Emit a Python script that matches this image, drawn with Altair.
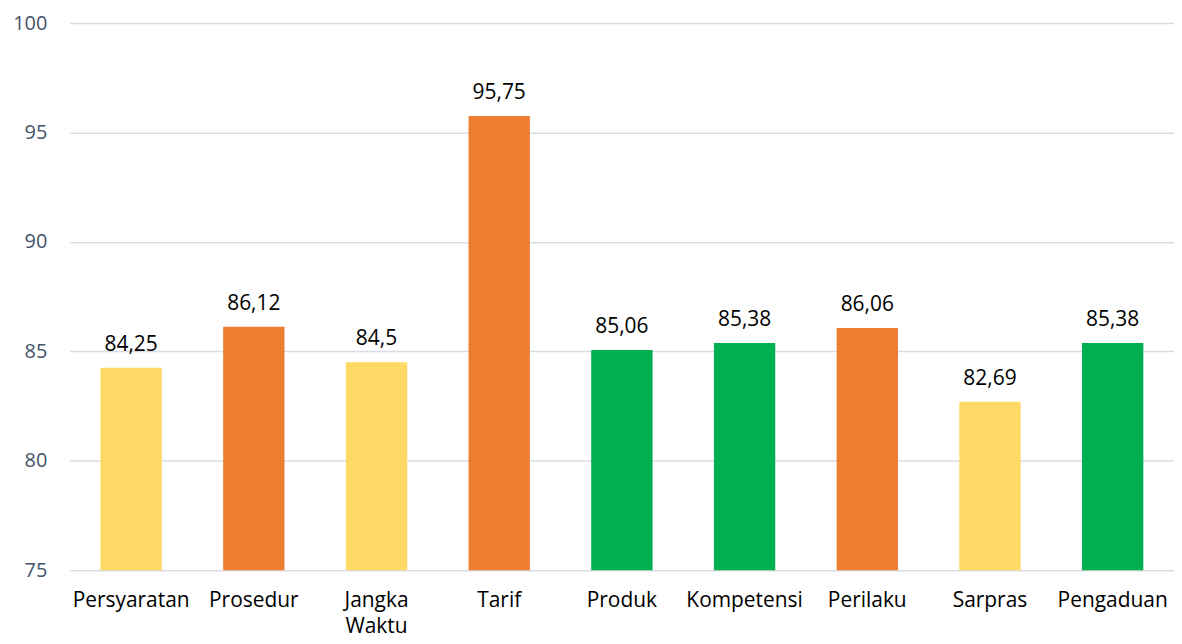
import altair as alt
import pandas as pd

categories = ["Persyaratan", "Prosedur", "Jangka Waktu", "Tarif", "Produk",
              "Kompetensi", "Perilaku", "Sarpras", "Pengaduan"]
values = [84.25, 86.12, 84.5, 95.75, 85.06, 85.38, 86.06, 82.69, 85.38]
labels = ["84,25", "86,12", "84,5", "95,75", "85,06", "85,38", "86,06", "82,69", "85,38"]
colors = ["#FFD966", "#ED7D31", "#FFD966", "#ED7D31", "#00B050",
          "#00B050", "#ED7D31", "#FFD966", "#00B050"]

df = pd.DataFrame({"cat": categories, "val": values, "lab": labels, "col": colors})

FONT = "Open Sans"

x = alt.X("cat:N", sort=categories, title=None,
          scale=alt.Scale(paddingInner=0.5, paddingOuter=0.25),
          axis=alt.Axis(labelAngle=0, labelFontSize=21, labelColor="#000000",
                        labelFont=FONT, ticks=False, domain=False, labelPadding=19,
                        labelLineHeight=27,
                        labelExpr="datum.label == 'Jangka Waktu' ? ['Jangka', 'Waktu'] : datum.label"))

y = alt.Y("val:Q", title=None,
          scale=alt.Scale(domain=[75, 100], zero=False, nice=False),
          axis=alt.Axis(values=[75, 80, 85, 90, 95, 100], labelFontSize=20,
                        labelColor="#44546A", labelFont=FONT, ticks=False,
                        domain=False, labelPadding=23, gridColor="#D9DDE3",
                        gridWidth=1.5))

bars = alt.Chart(df).mark_bar().encode(
    x=x, y=y, y2=alt.datum(75),
    color=alt.Color("col:N", scale=None),
)

text = alt.Chart(df).mark_text(baseline="bottom", dy=-13, fontSize=21,
                               font=FONT, color="#000000").encode(
    x=alt.X("cat:N", sort=categories), y="val:Q", text="lab:N")

chart = (bars + text).properties(
    width=1108, height=549,
    padding={"left": 62, "top": 14, "right": 0, "bottom": 72},
    autosize=alt.AutoSizeParams(type="none"),
).configure_view(stroke=None)

chart.save("out.html", embed_options={"renderer": "svg", "actions": False})
